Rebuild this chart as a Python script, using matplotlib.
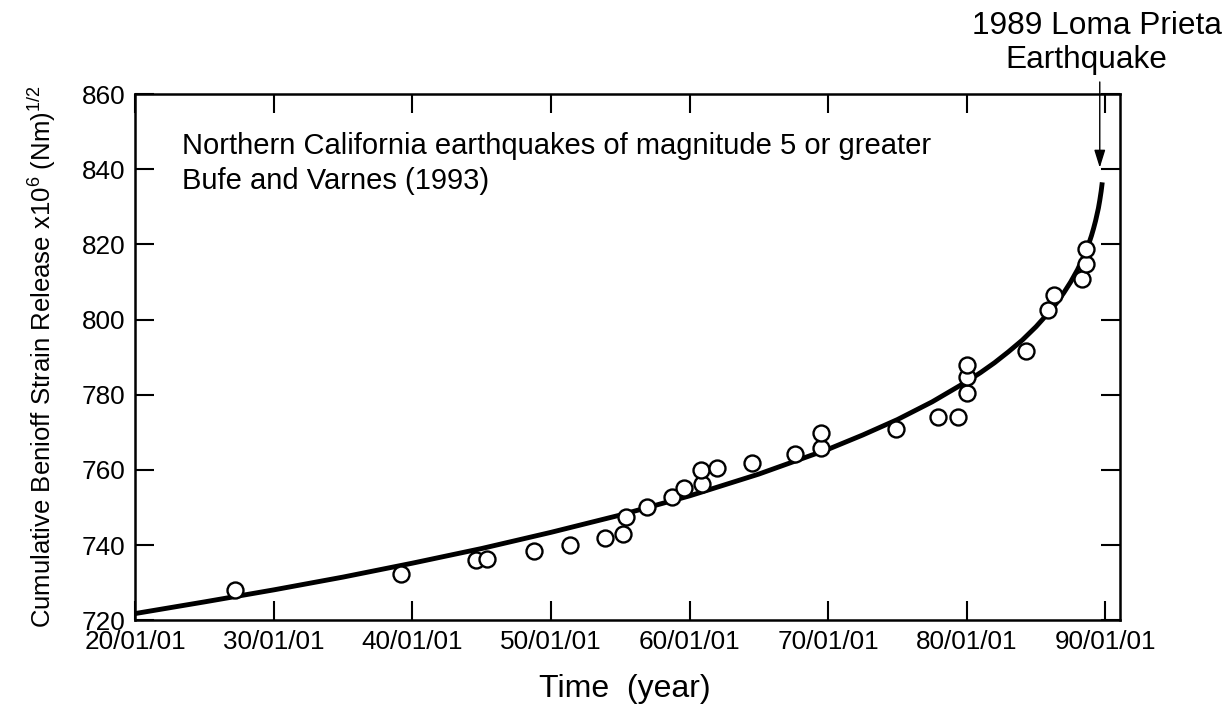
import numpy as np
import matplotlib
matplotlib.use('Agg')
import matplotlib.pyplot as plt

plt.rcParams['font.family'] = ['Liberation Sans', 'DejaVu Sans']
plt.rcParams['mathtext.default'] = 'regular'

# earthquake points (decimal year, cumulative Benioff strain)
quake_years = [1927.2, 1939.2, 1944.6, 1945.4, 1948.8, 1951.4, 1953.9, 1955.2,
               1955.4, 1956.9, 1958.7, 1959.6, 1960.9, 1960.8, 1962.0, 1964.5,
               1967.6, 1969.5, 1969.5, 1974.9, 1977.9, 1979.4, 1980.0, 1980.0,
               1980.0, 1984.3, 1985.9, 1986.3, 1988.3, 1988.6, 1988.6]
quake_strain = [728.0, 732.4, 736.0, 736.4, 738.5, 740.0, 741.8, 742.9,
                747.4, 750.1, 752.7, 755.1, 756.3, 760.0, 760.6, 761.9,
                764.3, 765.8, 769.8, 770.9, 774.0, 774.0, 780.4, 784.7,
                788.0, 791.6, 802.5, 806.4, 810.8, 814.9, 818.7]

# fitted time-to-failure curve
curve_years = [1920, 1925, 1930, 1935, 1940, 1945, 1950, 1955, 1960, 1965,
               1970, 1972.5, 1975, 1977.5, 1980, 1981, 1982, 1983, 1984, 1985,
               1986, 1986.5, 1987, 1987.5, 1988, 1988.5, 1988.8, 1989, 1989.15,
               1989.3, 1989.5, 1989.6, 1989.7, 1989.78]
curve_strain = [721.8, 724.9, 728.1, 731.5, 735.2, 739.1, 743.4, 748.0, 753.1, 758.9,
                765.5, 769.3, 773.4, 778.1, 783.5, 785.9, 788.5, 791.4, 794.5, 798.1,
                802.2, 804.5, 807.1, 810.0, 813.3, 817.3, 820.1, 822.3, 824.2,
                826.3, 829.6, 831.7, 834.1, 836.5]

xtick_years = [1920, 1930, 1940, 1950, 1960, 1970, 1980, 1990]
xtick_labels = ['20/01/01', '30/01/01', '40/01/01', '50/01/01',
                '60/01/01', '70/01/01', '80/01/01', '90/01/01']
ytick_values = [720, 740, 760, 780, 800, 820, 840, 860]

W, H = 1231, 715
fig = plt.figure(figsize=(W / 100, H / 100), dpi=100)
ax = fig.add_axes([135.3 / W, 1 - 620.3 / H, (1120 - 135.3) / W, (620.3 - 94) / H])

ax.plot(curve_years, curve_strain, color='black', lw=3.5, solid_capstyle='butt',
        solid_joinstyle='round', zorder=2)
ax.plot(quake_years, quake_strain, 'o', ms=11.5, mfc='white', mec='black', mew=1.7, zorder=3)

ax.set_xlim(1920, 1991.06)
ax.set_ylim(720, 860)
ax.set_xticks(xtick_years)
ax.set_xticklabels(xtick_labels)
ax.set_yticks(ytick_values)
ax.tick_params(direction='in', length=13.5, width=1.5, top=True, right=True,
               labelsize=18.8, pad=7)
for sp in ax.spines.values():
    sp.set_linewidth(1.8)

ax.text(0.0471, 0.8857, 'Northern California earthquakes of magnitude 5 or greater',
        transform=ax.transAxes, fontsize=21, va='baseline', ha='left')
ax.text(0.0471, 0.819, 'Bufe and Varnes (1993)',
        transform=ax.transAxes, fontsize=21, va='baseline', ha='left')

ax.annotate('', xy=(1989.6, 840.4), xytext=(1989.6, 863.2),
            arrowprops=dict(arrowstyle='-|>,head_length=0.8,head_width=0.25',
                            mutation_scale=13.5, color='black', lw=1.0,
                            shrinkA=0, shrinkB=0),
            annotation_clip=False)

fig.text(1096.7 / W, 1 - 34 / H, '1989 Loma Prieta', fontsize=22.8, ha='center', va='baseline')
fig.text(1086 / W, 1 - 68 / H, 'Earthquake', fontsize=22.8, ha='center', va='baseline')

fig.text(625 / W, 1 - 697 / H, 'Time  (year)', fontsize=23, ha='center', va='baseline')
fig.text(41.5 / W, 1 - 357 / H,
         r'Cumulative Benioff Strain Release x10$^6$ (Nm)$^{1/2}$',
         rotation=90, fontsize=18.5, ha='center', va='center')

fig.savefig('out.png', dpi=100)
